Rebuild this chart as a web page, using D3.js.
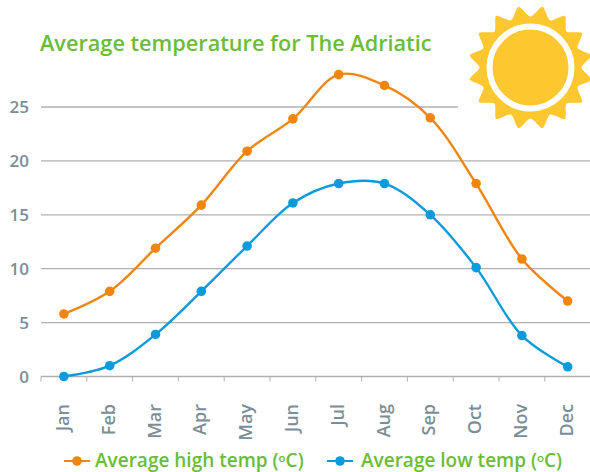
<!DOCTYPE html>
<html>
<head>
<meta charset="utf-8">
<script src="https://cdn.jsdelivr.net/npm/d3@7"></script>
<style>
  html, body { margin: 0; padding: 0; background: #fff; }
  text { font-family: "Open Sans", sans-serif; }
</style>
</head>
<body>
<div id="chart"></div>
<script>
const months = ["Jan", "Feb", "Mar", "Apr", "May", "Jun", "Jul", "Aug", "Sep", "Oct", "Nov", "Dec"];
const highTemps = [5.8, 7.9, 11.9, 15.9, 20.9, 23.9, 28, 27, 24, 17.9, 10.9, 7];
const lowTemps = [0, 1, 3.9, 7.9, 12.1, 16.1, 17.9, 17.9, 15, 10.1, 3.8, 0.9];
const yTicks = [0, 5, 10, 15, 20, 25];

const width = 590, height = 472;
const margin = { left: 41, right: 0, top: 0, bottom: 95.5 };

const highColor = "#f0860f";
const lowColor = "#0a9bdc";
const green = "#6abd35";
const axisText = "#7b8d97";
const gridColor = "#aeb1b3";
const sunColor = "#fdc82f";

const svg = d3.select("#chart").append("svg")
  .attr("width", width)
  .attr("height", height)
  .style("display", "block");

const xScale = d3.scaleBand()
  .domain(months)
  .range([margin.left, margin.left + 45.8 * 12]);

const yScale = d3.scaleLinear()
  .domain([0, 25])
  .range([height - margin.bottom, 107]);

const xPos = m => xScale(m) + xScale.bandwidth() / 2;

// Gridlines, the 25 line stops short of the sun
svg.append("g").selectAll("line")
  .data(yTicks)
  .enter()
  .append("line")
  .attr("x1", margin.left)
  .attr("x2", d => d === 25 ? 458 : width)
  .attr("y1", d => yScale(d))
  .attr("y2", d => yScale(d))
  .attr("stroke", gridColor)
  .attr("stroke-width", d => d === 0 ? 1.6 : 1.3);

// Y labels
svg.append("g").selectAll("text")
  .data(yTicks)
  .enter()
  .append("text")
  .attr("x", 29)
  .attr("y", d => yScale(d) + 6)
  .attr("text-anchor", "end")
  .attr("font-size", "17px")
  .attr("font-weight", 600)
  .attr("fill", axisText)
  .text(d => d);

// X axis ticks
svg.append("g").selectAll("line")
  .data(months.concat("end"))
  .enter()
  .append("line")
  .attr("x1", (d, i) => margin.left + i * xScale.bandwidth())
  .attr("x2", (d, i) => margin.left + i * xScale.bandwidth())
  .attr("y1", yScale(0))
  .attr("y2", yScale(0) + 5)
  .attr("stroke", gridColor)
  .attr("stroke-width", 1);

// X labels, rotated, tops line up under the axis
svg.append("g").selectAll("text")
  .data(months)
  .enter()
  .append("text")
  .attr("transform", d => `translate(${xPos(d) + 5},404) rotate(-90)`)
  .attr("text-anchor", "end")
  .attr("font-size", "18px")
  .attr("font-weight", 600)
  .attr("fill", axisText)
  .text(d => d);

// Lines and points
const line = d3.line()
  .x((d, i) => xPos(months[i]))
  .y(d => yScale(d))
  .curve(d3.curveCatmullRom.alpha(0.5));

[[highTemps, highColor], [lowTemps, lowColor]].forEach(([values, color]) => {
  svg.append("path")
    .datum(values)
    .attr("fill", "none")
    .attr("stroke", color)
    .attr("stroke-width", 2.4)
    .attr("d", line);

  svg.append("g").selectAll("circle")
    .data(values)
    .enter()
    .append("circle")
    .attr("cx", (d, i) => xPos(months[i]))
    .attr("cy", d => yScale(d))
    .attr("r", 4.8)
    .attr("fill", color);
});

// Title
svg.append("text")
  .attr("x", 40)
  .attr("y", 51)
  .attr("font-size", "21.7px")
  .attr("font-weight", 600)
  .attr("fill", green)
  .text("Average temperature for The Adriatic");

// Sun
const sunCx = 530.5, sunCy = 67.5;
const sunPoints = d3.range(32).map(i => [
  (i / 32) * 2 * Math.PI,
  i % 2 === 1 ? 62 : 51
]);
svg.append("path")
  .attr("transform", `translate(${sunCx},${sunCy})`)
  .attr("d", d3.lineRadial().curve(d3.curveCardinalClosed.tension(0.3))(sunPoints))
  .attr("fill", sunColor);
svg.append("circle")
  .attr("cx", sunCx).attr("cy", sunCy).attr("r", 41)
  .attr("fill", sunColor)
  .attr("stroke", "#fff")
  .attr("stroke-width", 6);

// Legend
const legendItems = [
  { label: "Average high temp (", color: highColor, x: 64, tx: 95 },
  { label: "Average low temp (", color: lowColor, x: 327, tx: 361 }
];
const legend = svg.append("g").selectAll("g")
  .data(legendItems)
  .enter()
  .append("g");

legend.append("line")
  .attr("x1", d => d.x)
  .attr("x2", d => d.x + 26)
  .attr("y1", 461)
  .attr("y2", 461)
  .attr("stroke", d => d.color)
  .attr("stroke-width", 2);

legend.append("circle")
  .attr("cx", d => d.x + 13)
  .attr("cy", 461)
  .attr("r", 4.8)
  .attr("fill", d => d.color);

const legendText = legend.append("text")
  .attr("x", d => d.tx)
  .attr("y", 467)
  .attr("font-size", "19px")
  .attr("font-weight", 600)
  .attr("fill", green);

legendText.append("tspan").text(d => d.label);
legendText.append("tspan").attr("font-size", "11.5px").attr("dy", -5).text("o");
legendText.append("tspan").attr("dy", 5).text("C)");
</script>
</body>
</html>
